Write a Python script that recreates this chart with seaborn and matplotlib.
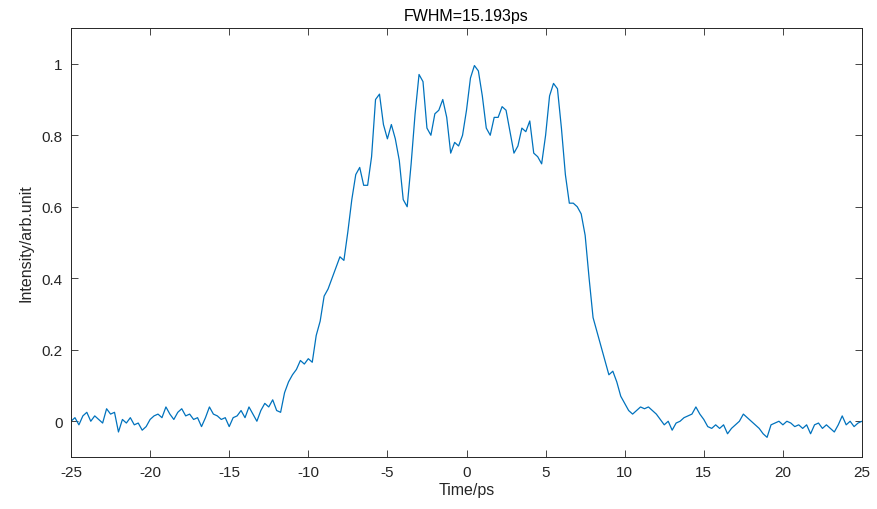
import numpy as np
import pandas as pd
import matplotlib
matplotlib.use("Agg")
import matplotlib.pyplot as plt
import seaborn as sns

intensity = [
    0.00, 0.01, -0.01, 0.015, 0.025, 0.00, 0.015, 0.005, -0.005, 0.035,
    0.02, 0.025, -0.03, 0.005, -0.005, 0.01, -0.01, -0.005, -0.025, -0.015,
    0.005, 0.015, 0.02, 0.01, 0.04, 0.02, 0.005, 0.025, 0.035, 0.015,
    0.02, 0.005, 0.01, -0.015, 0.01, 0.04, 0.02, 0.015, 0.005, 0.01,
    -0.015, 0.01, 0.015, 0.03, 0.01, 0.04, 0.02, 0.00, 0.03, 0.05,
    0.04, 0.06, 0.03, 0.025, 0.08, 0.11, 0.13, 0.145, 0.17, 0.16,
    0.175, 0.165, 0.24, 0.28, 0.35, 0.37, 0.40, 0.43, 0.46, 0.45,
    0.53, 0.62, 0.69, 0.71, 0.66, 0.66, 0.74, 0.90, 0.915, 0.83,
    0.79, 0.83, 0.79, 0.73, 0.62, 0.60, 0.72, 0.86, 0.97, 0.95,
    0.82, 0.80, 0.86, 0.87, 0.90, 0.85, 0.75, 0.78, 0.77, 0.80,
    0.87, 0.96, 0.995, 0.98, 0.91, 0.82, 0.80, 0.85, 0.85, 0.88,
    0.87, 0.81, 0.75, 0.77, 0.82, 0.81, 0.84, 0.75, 0.74, 0.72,
    0.80, 0.91, 0.945, 0.93, 0.82, 0.69, 0.61, 0.61, 0.60, 0.58,
    0.52, 0.40, 0.29, 0.25, 0.21, 0.17, 0.13, 0.14, 0.11, 0.07,
    0.05, 0.03, 0.02, 0.03, 0.04, 0.035, 0.04, 0.03, 0.02, 0.005,
    -0.01, 0.00, -0.025, -0.005, 0.00, 0.01, 0.015, 0.02, 0.04, 0.02,
    0.005, -0.015, -0.02, -0.01, -0.02, -0.01, -0.035, -0.02, -0.01, 0.00,
    0.02, 0.01, 0.00, -0.01, -0.02, -0.035, -0.045, -0.01, -0.005, 0.00,
    -0.01, 0.00, -0.005, -0.015, -0.01, -0.02, -0.01, -0.035, -0.01, -0.005,
    -0.02, -0.01, -0.02, -0.03, -0.01, 0.015, -0.01, 0.00, -0.015, -0.005,
    0.00,
]
time_ps = np.linspace(-25, 25, len(intensity))

x_ticks = [-25, -20, -15, -10, -5, 0, 5, 10, 15, 20, 25]
y_ticks = [0, 0.2, 0.4, 0.6, 0.8, 1]
y_tick_labels = ["0", "0.2", "0.4", "0.6", "0.8", "1"]

df = pd.DataFrame({"t": time_ps, "I": intensity})

sns.set_style("ticks")
plt.rcParams["font.family"] = ["Liberation Sans", "DejaVu Sans"]

fig = plt.figure(figsize=(8.77, 5.10), dpi=100)
ax = fig.add_axes([71 / 877, 52 / 510, 791 / 877, 429 / 510])

sns.lineplot(data=df, x="t", y="I", ax=ax, color="#0072BD", linewidth=0.9)

ax.set_xlim(-25, 25)
ax.set_ylim(-0.1, 1.1)
ax.set_xticks(x_ticks)
ax.set_xticklabels([str(v) for v in x_ticks])
ax.set_yticks(y_ticks)
ax.set_yticklabels(y_tick_labels)
ax.tick_params(direction="in", top=True, right=True, length=5, width=0.6,
               labelsize=11, colors="#262626", pad=6)
for s in ax.spines.values():
    s.set_visible(True)
    s.set_linewidth(0.7)
    s.set_color("#262626")

ax.set_xlabel("Time/ps", fontsize=11.5, color="#262626", labelpad=2)
ax.set_ylabel("Intensity/arb.unit", fontsize=11.5, color="#262626", labelpad=6)
ax.set_title("FWHM=15.193ps", fontsize=11.5, color="black", pad=6)

fig.savefig("out.png", dpi=100)
